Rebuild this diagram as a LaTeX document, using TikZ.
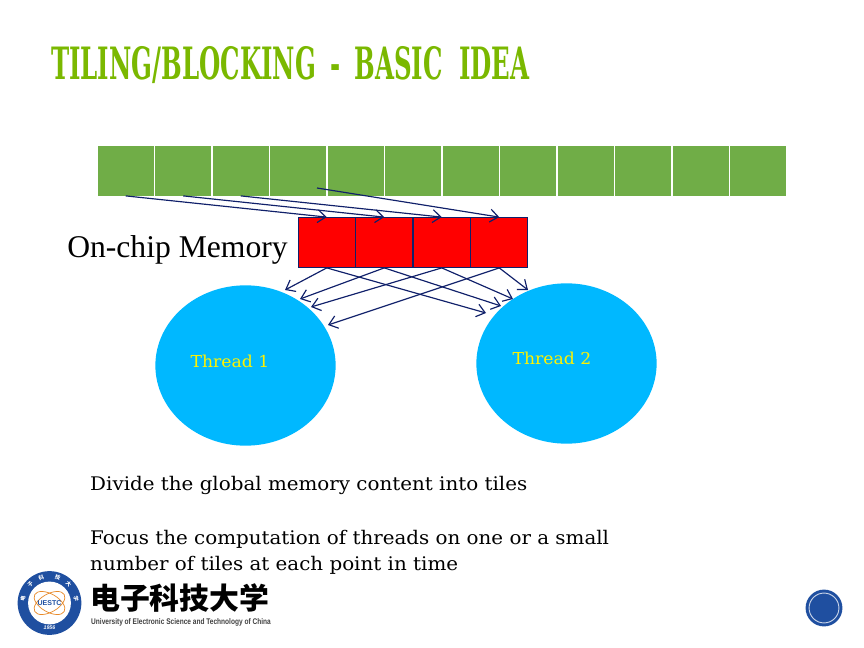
\documentclass[tikz,border=0pt]{standalone}
\usepackage{fontspec}
\newfontfamily\titlefont{DejaVu Serif Condensed}
\newfontfamily\bodyfont{DejaVu Serif}
\newfontfamily\logofont{Noto Sans CJK SC}
\newfontfamily\capfont{Liberation Sans}
\newfontfamily\labelfont{Liberation Serif}
\definecolor{tilegreen}{HTML}{70AD47}
\definecolor{titlegreen}{HTML}{7AB800}
\definecolor{threadblue}{HTML}{00B8FF}
\definecolor{arrownavy}{HTML}{10206A}
\definecolor{logoblue}{HTML}{1F4FA0}
\definecolor{orbit}{HTML}{E88A2A}
\usetikzlibrary{shapes.geometric,arrows.meta,calc}
\tikzset{
  tile/.style={fill=tilegreen,minimum width=56.3*0.85pt,minimum height=50*0.85pt,inner sep=0pt,outer sep=0pt},
  cache/.style={draw=arrownavy,line width=0.7pt,fill=red,minimum width=57.5*0.85pt,minimum height=51*0.85pt,inner sep=0pt,outer sep=0pt},
  thread/.style={ellipse,fill=threadblue,minimum width=181*0.85pt,minimum height=161*0.85pt,inner sep=0pt},
  fetch/.style={->,>={Straight Barb[length=7pt,width=11pt]},draw=arrownavy,line width=1pt},
  body/.style={font=\bodyfont\fontsize{16}{18}\selectfont,anchor=west,inner sep=0pt,xscale=1.06},
  threadlabel/.style={font=\bodyfont\fontsize{14}{16}\selectfont,text=yellow,inner sep=0pt,xscale=1.05},
}
\begin{document}
\begin{tikzpicture}[x=0.03cm,y=-0.03cm]
\useasboundingbox (0,0) rectangle (864,648);
\node[anchor=west,inner sep=0pt,text=titlegreen,font=\titlefont\bfseries\fontsize{38}{40}\selectfont,xscale=0.61] (title) at (51,65) {TILING/BLOCKING\hspace{20pt}-\hspace{20pt}BASIC\hspace{23pt}IDEA};
% memory tiles
\foreach \i in {1,...,12}
  \node[tile] (g\i) at ({97+57.5*(\i-0.5)},171) {};
% on-chip tiles
\foreach \i in {1,...,4}
  \node[cache] (m\i) at ({298+57.5*(\i-0.5)},242.5) {};
\node[anchor=east,inner sep=0pt,font=\labelfont\fontsize{27}{29}\selectfont] (onchip) at (288,250) {On-chip Memory};
\node[thread] (t1) at (245.5,365.5) {};
\node[thread] (t2) at (566.5,363.5) {};
\node[threadlabel] (t1label) at (230,361) {Thread 1};
\node[threadlabel] (t2label) at (552,358) {Thread 2};
% arrow ends
\coordinate (s4) at (317,188);
\coordinate (l1) at (285,290);
\coordinate (l2) at (300,299);
\coordinate (l3) at (311,307);
\coordinate (l4) at (328,325);
\coordinate (r1) at (486,313);
\coordinate (r2) at (501,306);
\coordinate (r3) at (513,299);
\coordinate (r4) at (528,290);
\foreach \i in {1,2,3}
  \draw[fetch] (g\i.south) -- (m\i.north);
\draw[fetch] (s4) -- (m4.north);
\foreach \i in {1,...,4} {
  \draw[fetch] (m\i.south) -- (l\i);
  \draw[fetch] (m\i.south) -- (r\i);
}
\node[body] (line1) at (90,485) {Divide the global memory content into tiles};
\node[body] (line2) at (90,539) {Focus the computation of threads on one or a small};
\node[body] (line3) at (90,565) {number of tiles at each point in time};
% logo
\node[circle,fill=logoblue,minimum size=64*0.85pt,inner sep=0pt] (seal) at (49.5,603) {};
\node[circle,fill=white,minimum size=43*0.85pt,inner sep=0pt] (sealin) at (seal) {};
\foreach \a in {30,-30}
  \draw[orbit,line width=0.6pt,rotate around={\a:(seal)}] (seal) ellipse (17 and 9);
\node[inner sep=0pt,text=logoblue,font=\capfont\bfseries\fontsize{6}{6}\selectfont] (uestc) at (seal) {UESTC};
\foreach \c/\a in {电/170,子/135,科/108,技/72,大/45,学/10}
  \node[inner sep=0pt,text=white,rotate=\a-90,font=\logofont\bfseries\fontsize{4.5}{5}\selectfont] at ($(seal)+(-\a:27)$) {\c};
\node[inner sep=0pt,text=white,font=\capfont\itshape\bfseries\fontsize{4.5}{5}\selectfont] (year) at (49.5,628) {1956};
\node[anchor=west,inner sep=0pt,font=\logofont\bfseries\fontsize{25.5}{27}\selectfont] (cname) at (90,598) {电子科技大学};
\node[anchor=west,inner sep=0pt,text=black!75,font=\capfont\bfseries\fontsize{7}{8}\selectfont,xscale=0.8] (ename) at (91,622) {University of Electronic Science and Technology of China};
% page mark
\node[circle,fill=logoblue,minimum size=37*0.85pt,inner sep=0pt] (mark) at (824,608) {};
\node[circle,draw=white!75!logoblue,line width=0.8pt,minimum size=30*0.85pt,inner sep=0pt] (markin) at (mark) {};
\end{tikzpicture}
\end{document}
